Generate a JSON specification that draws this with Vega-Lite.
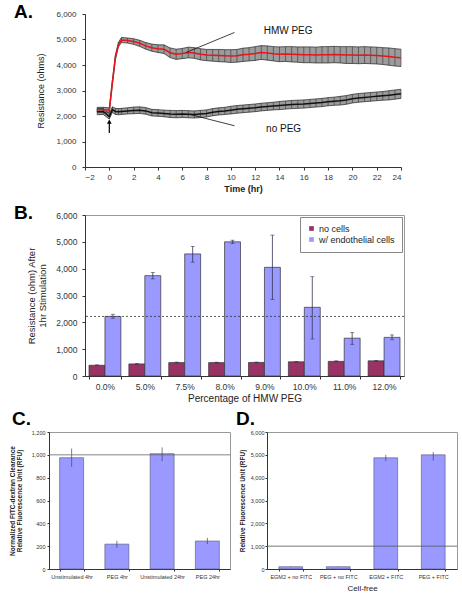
{
  "$schema": "https://vega.github.io/schema/vega-lite/v6.json",
  "background": "white",
  "padding": {"left": 8, "top": 3, "right": 4, "bottom": 4},
  "config": {
    "font": "Liberation Sans",
    "view": {"stroke": null},
    "axis": {"grid": false, "labelOverlap": false, "labelColor": "#333", "titleColor": "#222", "domainColor": "#333", "tickColor": "#333", "labelFont": "Liberation Sans", "titleFont": "Liberation Sans"},
    "title": {"anchor": "start", "frame": "group", "fontSize": 19, "fontWeight": "bold", "color": "#000", "offset": 0, "baseline": "bottom"}
  },
  "datasets": {
    "tc": [
      {"s": "HMW PEG", "t": -1, "m": 2250, "lo": 2160, "hi": 2340},
      {"s": "HMW PEG", "t": -0.5, "m": 2250, "lo": 2160, "hi": 2340},
      {"s": "HMW PEG", "t": 0, "m": 2230, "lo": 2140, "hi": 2320},
      {"s": "HMW PEG", "t": 0.25, "m": 3300, "lo": 3210, "hi": 3390},
      {"s": "HMW PEG", "t": 0.5, "m": 4300, "lo": 4210, "hi": 4390},
      {"s": "HMW PEG", "t": 0.75, "m": 4800, "lo": 4710, "hi": 4890},
      {"s": "HMW PEG", "t": 1, "m": 4980, "lo": 4880, "hi": 5080},
      {"s": "HMW PEG", "t": 1.5, "m": 4960, "lo": 4860, "hi": 5060},
      {"s": "HMW PEG", "t": 2, "m": 4920, "lo": 4810, "hi": 5030},
      {"s": "HMW PEG", "t": 2.5, "m": 4850, "lo": 4730, "hi": 4970},
      {"s": "HMW PEG", "t": 3, "m": 4750, "lo": 4620, "hi": 4880},
      {"s": "HMW PEG", "t": 3.5, "m": 4680, "lo": 4540, "hi": 4820},
      {"s": "HMW PEG", "t": 4, "m": 4640, "lo": 4490, "hi": 4790},
      {"s": "HMW PEG", "t": 4.5, "m": 4620, "lo": 4450, "hi": 4790},
      {"s": "HMW PEG", "t": 5, "m": 4480, "lo": 4290, "hi": 4670},
      {"s": "HMW PEG", "t": 5.5, "m": 4420, "lo": 4220, "hi": 4620},
      {"s": "HMW PEG", "t": 6, "m": 4450, "lo": 4250, "hi": 4650},
      {"s": "HMW PEG", "t": 6.5, "m": 4490, "lo": 4280, "hi": 4700},
      {"s": "HMW PEG", "t": 7, "m": 4470, "lo": 4260, "hi": 4680},
      {"s": "HMW PEG", "t": 7.5, "m": 4420, "lo": 4200, "hi": 4640},
      {"s": "HMW PEG", "t": 8, "m": 4390, "lo": 4170, "hi": 4610},
      {"s": "HMW PEG", "t": 8.5, "m": 4380, "lo": 4150, "hi": 4610},
      {"s": "HMW PEG", "t": 9, "m": 4370, "lo": 4130, "hi": 4610},
      {"s": "HMW PEG", "t": 9.5, "m": 4360, "lo": 4120, "hi": 4600},
      {"s": "HMW PEG", "t": 10, "m": 4350, "lo": 4100, "hi": 4600},
      {"s": "HMW PEG", "t": 10.5, "m": 4360, "lo": 4110, "hi": 4610},
      {"s": "HMW PEG", "t": 11, "m": 4400, "lo": 4140, "hi": 4660},
      {"s": "HMW PEG", "t": 11.5, "m": 4420, "lo": 4160, "hi": 4680},
      {"s": "HMW PEG", "t": 12, "m": 4450, "lo": 4180, "hi": 4720},
      {"s": "HMW PEG", "t": 12.5, "m": 4490, "lo": 4220, "hi": 4760},
      {"s": "HMW PEG", "t": 13, "m": 4470, "lo": 4190, "hi": 4750},
      {"s": "HMW PEG", "t": 13.5, "m": 4440, "lo": 4160, "hi": 4720},
      {"s": "HMW PEG", "t": 14, "m": 4420, "lo": 4130, "hi": 4710},
      {"s": "HMW PEG", "t": 14.5, "m": 4430, "lo": 4140, "hi": 4720},
      {"s": "HMW PEG", "t": 15, "m": 4420, "lo": 4120, "hi": 4720},
      {"s": "HMW PEG", "t": 15.5, "m": 4410, "lo": 4110, "hi": 4710},
      {"s": "HMW PEG", "t": 16, "m": 4400, "lo": 4090, "hi": 4710},
      {"s": "HMW PEG", "t": 16.5, "m": 4400, "lo": 4090, "hi": 4710},
      {"s": "HMW PEG", "t": 17, "m": 4390, "lo": 4080, "hi": 4700},
      {"s": "HMW PEG", "t": 17.5, "m": 4400, "lo": 4080, "hi": 4720},
      {"s": "HMW PEG", "t": 18, "m": 4400, "lo": 4080, "hi": 4720},
      {"s": "HMW PEG", "t": 18.5, "m": 4410, "lo": 4090, "hi": 4730},
      {"s": "HMW PEG", "t": 19, "m": 4400, "lo": 4080, "hi": 4720},
      {"s": "HMW PEG", "t": 19.5, "m": 4390, "lo": 4060, "hi": 4720},
      {"s": "HMW PEG", "t": 20, "m": 4390, "lo": 4060, "hi": 4720},
      {"s": "HMW PEG", "t": 20.5, "m": 4380, "lo": 4050, "hi": 4710},
      {"s": "HMW PEG", "t": 21, "m": 4390, "lo": 4060, "hi": 4720},
      {"s": "HMW PEG", "t": 21.5, "m": 4380, "lo": 4050, "hi": 4710},
      {"s": "HMW PEG", "t": 22, "m": 4370, "lo": 4040, "hi": 4700},
      {"s": "HMW PEG", "t": 22.5, "m": 4350, "lo": 4020, "hi": 4680},
      {"s": "HMW PEG", "t": 23, "m": 4330, "lo": 3990, "hi": 4670},
      {"s": "HMW PEG", "t": 23.5, "m": 4300, "lo": 3960, "hi": 4640},
      {"s": "HMW PEG", "t": 24, "m": 4280, "lo": 3940, "hi": 4620},
      {"s": "no PEG", "t": -1, "m": 2170, "lo": 2050, "hi": 2290},
      {"s": "no PEG", "t": -0.5, "m": 2180, "lo": 2060, "hi": 2300},
      {"s": "no PEG", "t": 0, "m": 1980, "lo": 1880, "hi": 2080},
      {"s": "no PEG", "t": 0.25, "m": 2250, "lo": 2140, "hi": 2360},
      {"s": "no PEG", "t": 0.5, "m": 2180, "lo": 2060, "hi": 2300},
      {"s": "no PEG", "t": 0.75, "m": 2170, "lo": 2050, "hi": 2290},
      {"s": "no PEG", "t": 1, "m": 2180, "lo": 2060, "hi": 2300},
      {"s": "no PEG", "t": 1.5, "m": 2200, "lo": 2080, "hi": 2320},
      {"s": "no PEG", "t": 2, "m": 2220, "lo": 2090, "hi": 2350},
      {"s": "no PEG", "t": 2.5, "m": 2230, "lo": 2100, "hi": 2360},
      {"s": "no PEG", "t": 3, "m": 2200, "lo": 2070, "hi": 2330},
      {"s": "no PEG", "t": 3.5, "m": 2130, "lo": 2000, "hi": 2260},
      {"s": "no PEG", "t": 4, "m": 2120, "lo": 1990, "hi": 2250},
      {"s": "no PEG", "t": 4.5, "m": 2100, "lo": 1970, "hi": 2230},
      {"s": "no PEG", "t": 5, "m": 2080, "lo": 1940, "hi": 2220},
      {"s": "no PEG", "t": 5.5, "m": 2070, "lo": 1930, "hi": 2210},
      {"s": "no PEG", "t": 6, "m": 2080, "lo": 1940, "hi": 2220},
      {"s": "no PEG", "t": 6.5, "m": 2070, "lo": 1930, "hi": 2210},
      {"s": "no PEG", "t": 7, "m": 2060, "lo": 1920, "hi": 2200},
      {"s": "no PEG", "t": 7.5, "m": 2080, "lo": 1940, "hi": 2220},
      {"s": "no PEG", "t": 8, "m": 2100, "lo": 1960, "hi": 2240},
      {"s": "no PEG", "t": 8.5, "m": 2150, "lo": 2010, "hi": 2290},
      {"s": "no PEG", "t": 9, "m": 2180, "lo": 2040, "hi": 2320},
      {"s": "no PEG", "t": 9.5, "m": 2200, "lo": 2060, "hi": 2340},
      {"s": "no PEG", "t": 10, "m": 2230, "lo": 2080, "hi": 2380},
      {"s": "no PEG", "t": 10.5, "m": 2260, "lo": 2110, "hi": 2410},
      {"s": "no PEG", "t": 11, "m": 2280, "lo": 2130, "hi": 2430},
      {"s": "no PEG", "t": 11.5, "m": 2300, "lo": 2150, "hi": 2450},
      {"s": "no PEG", "t": 12, "m": 2320, "lo": 2170, "hi": 2470},
      {"s": "no PEG", "t": 12.5, "m": 2350, "lo": 2200, "hi": 2500},
      {"s": "no PEG", "t": 13, "m": 2370, "lo": 2220, "hi": 2520},
      {"s": "no PEG", "t": 13.5, "m": 2390, "lo": 2240, "hi": 2540},
      {"s": "no PEG", "t": 14, "m": 2410, "lo": 2250, "hi": 2570},
      {"s": "no PEG", "t": 14.5, "m": 2430, "lo": 2270, "hi": 2590},
      {"s": "no PEG", "t": 15, "m": 2450, "lo": 2290, "hi": 2610},
      {"s": "no PEG", "t": 15.5, "m": 2460, "lo": 2300, "hi": 2620},
      {"s": "no PEG", "t": 16, "m": 2470, "lo": 2310, "hi": 2630},
      {"s": "no PEG", "t": 16.5, "m": 2490, "lo": 2330, "hi": 2650},
      {"s": "no PEG", "t": 17, "m": 2510, "lo": 2350, "hi": 2670},
      {"s": "no PEG", "t": 17.5, "m": 2530, "lo": 2370, "hi": 2690},
      {"s": "no PEG", "t": 18, "m": 2560, "lo": 2400, "hi": 2720},
      {"s": "no PEG", "t": 18.5, "m": 2580, "lo": 2420, "hi": 2740},
      {"s": "no PEG", "t": 19, "m": 2600, "lo": 2430, "hi": 2770},
      {"s": "no PEG", "t": 19.5, "m": 2630, "lo": 2460, "hi": 2800},
      {"s": "no PEG", "t": 20, "m": 2680, "lo": 2510, "hi": 2850},
      {"s": "no PEG", "t": 20.5, "m": 2710, "lo": 2540, "hi": 2880},
      {"s": "no PEG", "t": 21, "m": 2730, "lo": 2560, "hi": 2900},
      {"s": "no PEG", "t": 21.5, "m": 2750, "lo": 2580, "hi": 2920},
      {"s": "no PEG", "t": 22, "m": 2770, "lo": 2600, "hi": 2940},
      {"s": "no PEG", "t": 22.5, "m": 2790, "lo": 2620, "hi": 2960},
      {"s": "no PEG", "t": 23, "m": 2810, "lo": 2630, "hi": 2990},
      {"s": "no PEG", "t": 23.5, "m": 2840, "lo": 2660, "hi": 3020},
      {"s": "no PEG", "t": 24, "m": 2870, "lo": 2690, "hi": 3050}
    ],
    "annLines": [
      {"t": 10.3, "v": 5276, "t2": 6.3, "v2": 4487},
      {"t": 10.3, "v": 1618, "t2": 6.7, "v2": 2053}
    ],
    "annText": [
      {"t": 12.7, "v": 5345, "label": "HMW PEG"},
      {"t": 12.9, "v": 1490, "label": "no PEG"}
    ],
    "arrow": [{"t": 0, "v": 1330, "v2": 1780}],
    "bars": [
      {"pct": "0.0%", "group": "no cells", "value": 400, "lo": 385, "hi": 415},
      {"pct": "0.0%", "group": "w/ endothelial cells", "value": 2220, "lo": 2150, "hi": 2300},
      {"pct": "5.0%", "group": "no cells", "value": 450, "lo": 435, "hi": 465},
      {"pct": "5.0%", "group": "w/ endothelial cells", "value": 3740, "lo": 3620, "hi": 3860},
      {"pct": "7.5%", "group": "no cells", "value": 500, "lo": 480, "hi": 520},
      {"pct": "7.5%", "group": "w/ endothelial cells", "value": 4550, "lo": 4240, "hi": 4830},
      {"pct": "8.0%", "group": "no cells", "value": 500, "lo": 485, "hi": 515},
      {"pct": "8.0%", "group": "w/ endothelial cells", "value": 5000, "lo": 4940, "hi": 5060},
      {"pct": "9.0%", "group": "no cells", "value": 505, "lo": 490, "hi": 520},
      {"pct": "9.0%", "group": "w/ endothelial cells", "value": 4050, "lo": 2850, "hi": 5250},
      {"pct": "10.0%", "group": "no cells", "value": 530, "lo": 515, "hi": 545},
      {"pct": "10.0%", "group": "w/ endothelial cells", "value": 2560, "lo": 1380, "hi": 3700},
      {"pct": "11.0%", "group": "no cells", "value": 545, "lo": 525, "hi": 565},
      {"pct": "11.0%", "group": "w/ endothelial cells", "value": 1410, "lo": 1180, "hi": 1620},
      {"pct": "12.0%", "group": "no cells", "value": 565, "lo": 550, "hi": 580},
      {"pct": "12.0%", "group": "w/ endothelial cells", "value": 1440, "lo": 1350, "hi": 1530}
    ],
    "perm": [
      {"cond": "Unstimulated 4hr", "value": 975, "lo": 895, "hi": 1055},
      {"cond": "PEG 4hr", "value": 218, "lo": 185, "hi": 248},
      {"cond": "Unstimulated 24hr", "value": 1010, "lo": 945, "hi": 1065},
      {"cond": "PEG 24hr", "value": 245, "lo": 218, "hi": 272}
    ],
    "cellfree": [
      {"cond": "EGM2 + no FITC", "value": 100, "lo": 90, "hi": 110},
      {"cond": "PEG + no FITC", "value": 100, "lo": 90, "hi": 110},
      {"cond": "EGM2 + FITC", "value": 4870, "lo": 4720, "hi": 5000},
      {"cond": "PEG + FITC", "value": 5000, "lo": 4750, "hi": 5120}
    ]
  },
  "spacing": 5,
  "resolve": {"scale": {"color": "independent"}, "legend": {"color": "independent"}},
  "vconcat": [
    {
      "bounds": "flush",
      "spacing": 6,
      "resolve": {"scale": {"color": "independent"}, "legend": {"color": "independent"}},
      "hconcat": [
        {
          "width": 30,
          "height": 1,
          "data": {"values": [{}]},
          "mark": {"type": "point", "opacity": 0}
        },
        {
          "spacing": 10,
          "resolve": {"scale": {"color": "independent"}, "legend": {"color": "independent"}},
          "vconcat": [
            {
              "width": 316,
              "height": 153,
              "title": {"text": "A.", "dx": -71, "dy": 16},
              "layer": [
                {
                  "data": {"name": "tc"},
                  "mark": {"type": "area", "color": "#9c9c9c"},
                  "encoding": {
                    "x": {"field": "t", "type": "quantitative", "scale": {"domain": [-2, 24], "nice": false},
                      "axis": {"values": [-2, 0, 2, 4, 6, 8, 10, 12, 14, 16, 18, 20, 22, 24], "tickCount": 30, "format": "d", "title": "Time (hr)", "titleFontSize": 9, "titleFontWeight": "bold", "labelFontSize": 8, "tickSize": 3, "labelPadding": 3, "titlePadding": 3}},
                    "y": {"field": "lo", "type": "quantitative", "scale": {"domain": [0, 6000], "nice": false},
                      "axis": {"values": [0, 1000, 2000, 3000, 4000, 5000, 6000], "tickCount": 30, "format": ",.0f", "title": "Resistance (ohms)", "titleFontSize": 9, "titleFontWeight": "normal", "labelFontSize": 8, "tickSize": 3, "labelPadding": 6, "titlePadding": 10}},
                    "y2": {"field": "hi"},
                    "detail": {"field": "s"}
                  }
                },
                {
                  "data": {"name": "tc"},
                  "mark": {"type": "rule", "color": "#333", "strokeWidth": 0.6},
                  "encoding": {
                    "x": {"field": "t", "type": "quantitative"},
                    "y": {"field": "lo", "type": "quantitative"},
                    "y2": {"field": "hi"}
                  }
                },
                {
                  "data": {"name": "tc"},
                  "mark": {"type": "line", "color": "#222", "strokeWidth": 0.7},
                  "encoding": {
                    "x": {"field": "t", "type": "quantitative"},
                    "y": {"field": "lo", "type": "quantitative"},
                    "detail": {"field": "s"}
                  }
                },
                {
                  "data": {"name": "tc"},
                  "mark": {"type": "line", "color": "#222", "strokeWidth": 0.7},
                  "encoding": {
                    "x": {"field": "t", "type": "quantitative"},
                    "y": {"field": "hi", "type": "quantitative"},
                    "detail": {"field": "s"}
                  }
                },
                {
                  "data": {"name": "tc"},
                  "mark": {"type": "line", "strokeWidth": 1.5},
                  "encoding": {
                    "x": {"field": "t", "type": "quantitative"},
                    "y": {"field": "m", "type": "quantitative"},
                    "color": {"field": "s", "type": "nominal", "scale": {"domain": ["no PEG", "HMW PEG"], "range": ["#111111", "#e8141b"]}, "legend": null}
                  }
                },
                {
                  "data": {"name": "annLines"},
                  "mark": {"type": "rule", "color": "#111", "strokeWidth": 0.8},
                  "encoding": {
                    "x": {"field": "t", "type": "quantitative"},
                    "x2": {"field": "t2"},
                    "y": {"field": "v", "type": "quantitative"},
                    "y2": {"field": "v2"}
                  }
                },
                {
                  "data": {"name": "annText"},
                  "mark": {"type": "text", "align": "left", "baseline": "middle", "fontSize": 10, "color": "#111"},
                  "encoding": {
                    "x": {"field": "t", "type": "quantitative"},
                    "y": {"field": "v", "type": "quantitative"},
                    "text": {"field": "label"}
                  }
                },
                {
                  "data": {"name": "arrow"},
                  "mark": {"type": "rule", "color": "#000", "strokeWidth": 1.2},
                  "encoding": {
                    "x": {"field": "t", "type": "quantitative"},
                    "y": {"field": "v", "type": "quantitative"},
                    "y2": {"field": "v2"}
                  }
                },
                {
                  "data": {"name": "arrow"},
                  "mark": {"type": "point", "shape": "triangle-up", "filled": true, "color": "#000", "size": 22, "opacity": 1},
                  "encoding": {
                    "x": {"field": "t", "type": "quantitative"},
                    "y": {"field": "v2", "type": "quantitative"}
                  }
                }
              ]
            },
            {
              "width": 319,
              "height": 161,
              "title": {"text": "B.", "dx": -71, "dy": 16},
              "view": {"stroke": "#999"},
              "layer": [
                {
                  "data": {"name": "bars"},
                  "mark": {"type": "bar", "stroke": "#333", "strokeWidth": 0.7},
                  "encoding": {
                    "x": {"field": "pct", "type": "nominal", "sort": null, "scale": {"paddingInner": 0.2, "paddingOuter": 0.1},
                      "axis": {"title": "Percentage of HMW PEG", "labelAngle": 0, "labelFontSize": 8.5, "titleFontSize": 10, "titleFontWeight": "normal", "tickBand": "extent", "tickSize": 3, "labelPadding": 3, "titlePadding": 3}},
                    "xOffset": {"field": "group", "type": "nominal", "sort": null, "scale": {"paddingInner": 0, "paddingOuter": 0}},
                    "y": {"field": "value", "type": "quantitative", "scale": {"domain": [0, 6000], "nice": false},
                      "axis": {"values": [0, 1000, 2000, 3000, 4000, 5000, 6000], "tickCount": 30, "format": ",.0f", "title": ["Resistance (ohm) After", "1hr Stimulation"], "titleFontSize": 9.5, "titleFontWeight": "normal", "labelFontSize": 8.5, "tickSize": 3, "labelPadding": 5, "titlePadding": 8}},
                    "color": {"field": "group", "type": "nominal", "sort": null, "scale": {"domain": ["no cells", "w/ endothelial cells"], "range": ["#993366", "#9999ff"]},
                      "legend": {"title": null, "orient": "top-right", "offset": 2, "strokeColor": "#888", "fillColor": "white", "padding": 7, "labelFontSize": 9, "labelColor": "#222", "labelOffset": 3, "symbolType": "square", "symbolSize": 22, "symbolStrokeWidth": 0, "rowPadding": 1}}
                  }
                },
                {
                  "data": {"name": "bars"},
                  "mark": {"type": "rule", "color": "#333355", "strokeWidth": 0.8},
                  "encoding": {
                    "x": {"field": "pct", "type": "nominal", "sort": null},
                    "xOffset": {"field": "group", "type": "nominal", "sort": null},
                    "y": {"field": "lo", "type": "quantitative"},
                    "y2": {"field": "hi"}
                  }
                },
                {
                  "data": {"name": "bars"},
                  "mark": {"type": "tick", "color": "#333355", "size": 4, "thickness": 0.8},
                  "encoding": {
                    "x": {"field": "pct", "type": "nominal", "sort": null},
                    "xOffset": {"field": "group", "type": "nominal", "sort": null},
                    "y": {"field": "lo", "type": "quantitative"}
                  }
                },
                {
                  "data": {"name": "bars"},
                  "mark": {"type": "tick", "color": "#333355", "size": 4, "thickness": 0.8},
                  "encoding": {
                    "x": {"field": "pct", "type": "nominal", "sort": null},
                    "xOffset": {"field": "group", "type": "nominal", "sort": null},
                    "y": {"field": "hi", "type": "quantitative"}
                  }
                },
                {
                  "data": {"values": [{"ref": 2220}]},
                  "mark": {"type": "rule", "color": "#333", "strokeWidth": 0.8, "strokeDash": [2, 2]},
                  "encoding": {"y": {"field": "ref", "type": "quantitative"}}
                }
              ]
            }
          ]
        }
      ]
    },
    {
      "bounds": "flush",
      "spacing": 37,
      "hconcat": [
        {
          "width": 181,
          "height": 137,
          "title": {"text": "C.", "dx": -37, "dy": 3},
          "view": {"stroke": "#999"},
          "layer": [
            {
              "data": {"name": "perm"},
              "mark": {"type": "bar", "color": "#9999ff", "stroke": "#555577", "strokeWidth": 0.6},
              "encoding": {
                "x": {"field": "cond", "type": "nominal", "sort": null, "scale": {"paddingInner": 0.47, "paddingOuter": 0.235},
                  "axis": {"title": null, "labelAngle": 0, "labelFontSize": 5.5, "tickSize": 2, "labelPadding": 3, "tickBand": "extent"}},
                "y": {"field": "value", "type": "quantitative", "scale": {"domain": [0, 1200], "nice": false},
                  "axis": {"values": [0, 200, 400, 600, 800, 1000, 1200], "tickCount": 30, "format": ",.0f", "labelFontSize": 5.5, "tickSize": 2, "labelPadding": 2, "title": ["Normalized FITC-dextran Clearance", "Relative Fluorescence Unit (RFU)"], "titleFontSize": 6.5, "titleFontWeight": "bold", "titlePadding": 9, "titleLineHeight": 7}}
              }
            },
            {
              "data": {"name": "perm"},
              "mark": {"type": "rule", "color": "#444466", "strokeWidth": 0.7},
              "encoding": {
                "x": {"field": "cond", "type": "nominal", "sort": null},
                "y": {"field": "lo", "type": "quantitative"},
                "y2": {"field": "hi"}
              }
            },
            {
              "data": {"values": [{"ref": 1000}]},
              "mark": {"type": "rule", "color": "#666", "strokeWidth": 0.8},
              "encoding": {"y": {"field": "ref", "type": "quantitative"}}
            }
          ]
        },
        {
          "width": 190,
          "height": 137,
          "title": {"text": "D.", "dx": -31, "dy": 3},
          "view": {"stroke": "#999"},
          "layer": [
            {
              "data": {"name": "cellfree"},
              "mark": {"type": "bar", "color": "#9999ff", "stroke": "#555577", "strokeWidth": 0.6},
              "encoding": {
                "x": {"field": "cond", "type": "nominal", "sort": null, "scale": {"paddingInner": 0.5, "paddingOuter": 0.25},
                  "axis": {"title": "Cell-free", "titleFontSize": 8, "titleFontWeight": "normal", "titlePadding": 5, "labelAngle": 0, "labelFontSize": 5.5, "tickSize": 2, "labelPadding": 3, "tickBand": "extent"}},
                "y": {"field": "value", "type": "quantitative", "scale": {"domain": [0, 6000], "nice": false},
                  "axis": {"values": [0, 1000, 2000, 3000, 4000, 5000, 6000], "tickCount": 30, "format": ",.0f", "labelFontSize": 5.5, "tickSize": 2, "labelPadding": 1, "title": "Relative Fluorescence Unit (RFU)", "titleFontSize": 6.5, "titleFontWeight": "bold", "titlePadding": 5}}
              }
            },
            {
              "data": {"name": "cellfree"},
              "mark": {"type": "rule", "color": "#444466", "strokeWidth": 0.7},
              "encoding": {
                "x": {"field": "cond", "type": "nominal", "sort": null},
                "y": {"field": "lo", "type": "quantitative"},
                "y2": {"field": "hi"}
              }
            },
            {
              "data": {"values": [{"ref": 1000}]},
              "mark": {"type": "rule", "color": "#555", "strokeWidth": 0.8},
              "encoding": {"y": {"field": "ref", "type": "quantitative"}}
            }
          ]
        }
      ]
    }
  ]
}
